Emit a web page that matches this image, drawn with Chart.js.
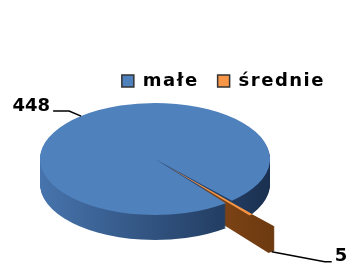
<!DOCTYPE html>
<html>
<head>
<meta charset="utf-8">
<script src="https://cdn.jsdelivr.net/npm/chart.js@4/dist/chart.umd.min.js"></script>
<style>
  html, body { margin: 0; padding: 0; background: #fff; }
  #wrap { width: 351px; height: 269px; }
</style>
</head>
<body>
<div id="wrap"><canvas id="sizeChart"></canvas></div>
<script>
// company sizes
const categories = ['małe', 'średnie'];
const counts = [448, 5];
const topColors = ['#4f81bd', '#f79646'];
const sideColors = [['#4774ad', '#1a3050'], ['#b0652a', '#6e3a10']];

// 3d look of the pie
const DEPTH = 25;     // thickness in px
const RX = 115;       // ellipse half width
const RY = 56;        // ellipse half height
const PIE_SHIFT = 17; // pie sits a bit left of the plot centre
// leader lines: [diagonal dx, diagonal dy, horizontal run]
const leaders = [[12, 5, 16], [53, 10, 7]];

function geom(chart) {
  const arc = chart.getDatasetMeta(0).data[0];
  const r = arc.outerRadius;
  return { cx: arc.x, cy: arc.y, r: r, sx: RX / r, sy: RY / r };
}

function sliceOffset(arc) {
  const off = arc.options.offset || 0;
  const circ = arc.endAngle - arc.startAngle;
  return off * (1 - Math.sin(Math.min(Math.PI, circ)));
}

function slicePath(ctx, arc) {
  const mid = (arc.startAngle + arc.endAngle) / 2;
  const o = sliceOffset(arc);
  const x = arc.x + Math.cos(mid) * o, y = arc.y + Math.sin(mid) * o;
  ctx.beginPath();
  ctx.moveTo(x, y);
  ctx.arc(x, y, arc.outerRadius, arc.startAngle, arc.endAngle);
  ctx.closePath();
}

const pie3d = {
  id: 'pie3d',
  beforeUpdate(chart) {
    chart.ctx.letterSpacing = '1.5px';
  },
  afterLayout(chart) {
    chart.chartArea.left -= PIE_SHIFT;
    chart.chartArea.right -= PIE_SHIFT;
  },
  beforeDatasetsDraw(chart) {
    const ctx = chart.ctx, g = geom(chart);
    const arcs = chart.getDatasetMeta(0).data;
    for (let k = DEPTH; k >= 1; k--) {
      ctx.save();
      ctx.translate(g.cx, g.cy + k);
      ctx.scale(g.sx, g.sy);
      ctx.translate(-g.cx, -g.cy);
      arcs.forEach((arc, i) => {
        const grad = ctx.createLinearGradient(g.cx - g.r, 0, g.cx + g.r, 0);
        grad.addColorStop(0, sideColors[i][0]);
        grad.addColorStop(1, sideColors[i][1]);
        ctx.fillStyle = grad;
        slicePath(ctx, arc);
        ctx.fill();
      });
      ctx.restore();
    }
    ctx.save();
    ctx.translate(g.cx, g.cy);
    ctx.scale(g.sx, g.sy);
    ctx.translate(-g.cx, -g.cy);
  },
  afterDatasetsDraw(chart) {
    chart.ctx.restore();
  },
  afterDraw(chart) {
    const ctx = chart.ctx, g = geom(chart);
    const arcs = chart.getDatasetMeta(0).data;
    ctx.save();
    ctx.letterSpacing = '0px';
    ctx.strokeStyle = '#000';
    ctx.lineWidth = 1.5;
    ctx.fillStyle = '#000';
    ctx.font = 'bold 18px "DejaVu Sans"';
    ctx.textBaseline = 'middle';
    arcs.forEach((arc, i) => {
      const mid = (arc.startAngle + arc.endAngle) / 2;
      const rr = arc.outerRadius + sliceOffset(arc);
      const c = Math.cos(mid), s = Math.sin(mid);
      const ax = g.cx + c * rr * g.sx;
      const ay = g.cy + s * rr * g.sy + (s > 0 ? DEPTH : 0);
      const dx = Math.sign(c), dy = Math.sign(s);
      const [ldx, ldy, lh] = leaders[i];
      const ex = ax + dx * ldx, ey = ay + dy * ldy;
      const tx = ex + dx * lh;
      ctx.beginPath();
      ctx.moveTo(ax, ay);
      ctx.lineTo(ex, ey);
      ctx.lineTo(tx, ey);
      ctx.stroke();
      ctx.textAlign = dx < 0 ? 'right' : 'left';
      ctx.fillText(String(counts[i]), tx + dx * 3, ey - 5);
    });
    ctx.restore();
  }
};

new Chart(document.getElementById('sizeChart'), {
  type: 'pie',
  data: {
    labels: categories,
    datasets: [{
      data: counts,
      backgroundColor: topColors,
      borderWidth: 0,
      offset: [0, 28]
    }]
  },
  options: {
    responsive: true,
    maintainAspectRatio: false,
    animation: false,
    rotation: 142,
    layout: { padding: { top: 53, bottom: 51, left: 0, right: 7 } },
    plugins: {
      tooltip: { enabled: false },
      legend: {
        position: 'top',
        align: 'end',
        labels: {
          boxWidth: 12,
          boxHeight: 12,
          padding: 19,
          color: '#000',
          font: { family: 'DejaVu Sans', size: 18, weight: 700 },
          generateLabels(chart) {
            const base = Chart.overrides.doughnut.plugins.legend.labels.generateLabels(chart);
            return base.map(l => Object.assign(l, { strokeStyle: '#333', lineWidth: 1.5 }));
          }
        }
      }
    }
  },
  plugins: [pie3d]
});
</script>
</body>
</html>
